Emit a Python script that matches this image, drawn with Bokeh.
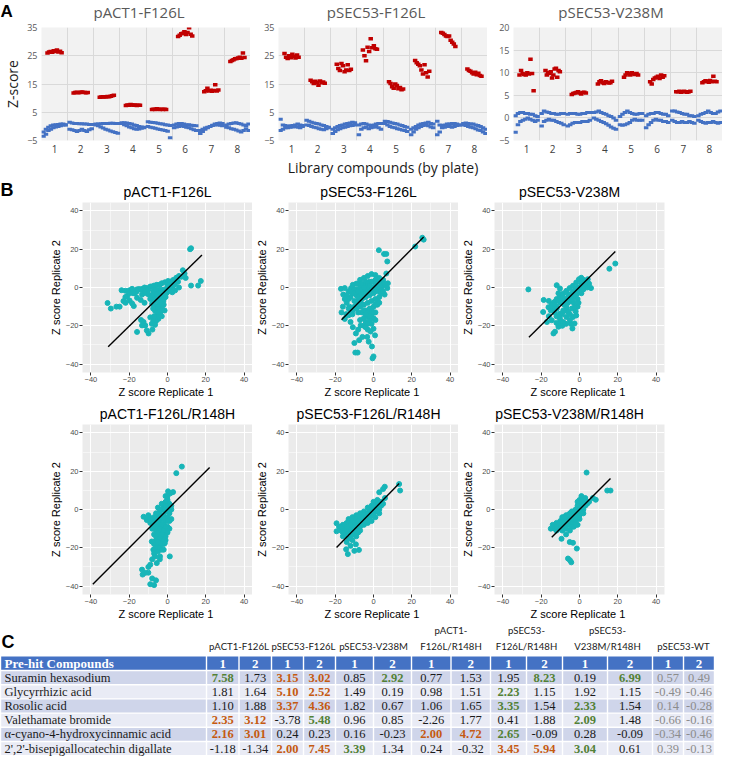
from bokeh.plotting import figure
from bokeh.layouts import column, row
from bokeh.models import FixedTicker, Range1d
from bokeh.core.properties import value
from bokeh.embed import file_html
from bokeh.resources import INLINE

# ---------------- Panel A data ----------------
plates = [1, 2, 3, 4, 5, 6, 7, 8]
a_titles = ["pACT1-F126L", "pSEC53-F126L", "pSEC53-V238M"]

act1_hits = [
    [26.0, 26.3, 26.5, 26.2, 26.8, 26.5, 27.0, 26.3, 26.6, 26.1],
    [11.8, 12.0, 12.1, 11.9, 12.0, 12.2, 12.1, 12.0, 11.9, 12.0],
    [10.3, 10.4, 10.5, 10.4, 10.5, 10.6, 10.5, 10.7, 10.8, 11.0],
    [7.4, 7.6, 7.5, 7.7, 7.6, 7.5, 7.6, 7.4, 7.5, 7.5],
    [6.0, 6.1, 6.0, 6.2, 6.1, 6.0, 6.1, 6.0, 6.1, 6.0],
    [31.8, 32.3, 32.8, 33.0, 33.5, 32.5, 33.2, 34.9, 32.6, 32.0],
    [12.3, 12.6, 13.5, 12.5, 12.8, 12.4, 12.7, 14.7, 12.5, 12.9],
    [23.0, 23.3, 23.6, 23.9, 24.0, 24.2, 24.5, 24.1, 26.0, 24.4],
]
act1_ctrl_upper = [
    [-2.0, -1.0, -0.3, 0.2, 0.5, 0.6, 0.7, 0.8, 0.8, 0.6],
    [1.5, 1.2, 1.0, 1.0, 0.9, 0.9, 0.8, 0.8, 0.7, 0.7],
    [0.8, 0.8, 0.9, 1.0, 1.0, 1.0, 1.1, 1.1, 1.0, 1.0],
    [1.3, 1.3, 1.2, 1.0, 0.8, 0.5, 0.3, 0.0, -0.2, -0.3],
    [1.6, 1.5, 1.4, 1.3, 1.1, 0.9, 0.8, 0.6, 0.5, 0.3],
    [0.5, 0.8, 1.0, 1.0, 0.8, 0.6, 0.6, 0.4, 0.3, 0.2],
    [-2.5, -1.8, -1.0, -0.5, 0.0, 0.4, 0.8, 1.0, 1.2, 1.0],
    [0.5, 0.8, 1.0, 1.2, 1.3, 1.0, 0.8, 0.5, 0.3, 0.8],
]
act1_ctrl_lower = [
    [-3.5, -2.8, -1.5, -1.0, -0.5, -0.2, 0.0, 0.2, 0.5, 0.5],
    [-1.0, -1.2, -1.5, -1.8, -1.5, -1.0, -1.5, -1.8, -1.2, -0.8],
    [0.5, 0.2, -0.2, -0.6, -1.0, -1.3, -1.6, -1.9, -2.2, -2.4],
    [1.0, 0.6, 0.2, -0.2, -0.5, -0.8, -1.0, -0.9, -0.7, -0.5],
    [0.0, -0.3, -0.5, -0.7, -0.9, -1.1, -1.3, -1.5, -1.7, -4.0],
    [-0.5, -0.2, 0.0, 0.2, 0.0, -0.3, -0.5, -0.8, -1.2, -1.5],
    [-1.5, -1.0, -0.6, -0.3, 0.0, 0.3, 0.5, 0.6, 0.4, 0.2],
    [-0.3, -0.5, -0.8, -1.0, -1.3, -1.6, -2.0, -1.5, -0.8, -1.5],
]
f126l_hits = [
    [25.8, 24.5, 24.0, 25.0, 24.3, 25.5, 24.8, 24.2, 25.3, 24.5],
    [16.3, 15.8, 15.2, 16.0, 15.5, 14.6, 16.1, 15.4, 15.7, 15.3],
    [22.0, 20.5, 19.8, 22.3, 21.5, 19.3, 20.0, 21.8, 19.8, 20.2],
    [27.0, 25.0, 23.2, 28.0, 26.5, 31.0, 27.8, 28.5, 27.5, 27.3],
    [15.8, 15.2, 14.0, 13.5, 15.0, 14.5, 13.3, 13.8, 13.0, 13.2],
    [23.3, 22.5, 22.0, 21.5, 20.0, 18.5, 21.8, 19.0, 17.5, 19.5],
    [33.2, 33.0, 32.5, 32.0, 31.8, 32.0, 30.5, 29.8, 29.2, 28.3],
    [20.3, 19.8, 19.5, 19.0, 18.5, 19.2, 18.3, 18.8, 18.0, 17.7],
]
f126l_ctrl_upper = [
    [2.5, 0.5, 0.3, 0.0, 0.2, 0.3, 0.5, 0.8, 0.5, 0.3],
    [2.2, 1.8, 1.5, 1.2, 1.0, 0.8, 0.5, 0.3, 0.0, -0.3],
    [-1.0, -0.5, 0.0, 0.3, 0.5, 0.8, 1.0, 1.2, 1.5, 1.3],
    [0.5, 0.8, 1.0, 0.8, 0.5, 0.3, 0.5, 0.8, 1.0, 1.0],
    [1.8, 1.7, 1.5, 1.2, 1.0, 0.8, 0.5, 0.3, 0.0, -0.3],
    [-1.0, -0.5, 0.0, 0.5, 0.8, 1.0, 1.2, 1.5, 1.0, 0.8],
    [1.8, 0.5, 0.3, 0.5, 0.8, 0.8, 1.0, 1.0, 0.8, 0.5],
    [1.0, 1.2, 1.0, 0.8, 0.8, 0.5, 0.3, 0.0, -0.5, -1.0],
]
f126l_ctrl_lower = [
    [-1.5, -1.0, -0.5, -0.5, -0.3, -0.2, 0.0, -0.3, -0.5, 0.0],
    [0.5, 0.3, 0.0, -0.3, -0.5, -0.8, -1.0, -1.2, -0.8, -0.5],
    [-2.5, -1.8, -1.2, -0.8, -0.5, -0.3, 0.0, 0.2, 0.3, 0.5],
    [-3.0, -1.0, -0.5, -0.3, -0.8, -0.5, -0.3, 0.0, -0.5, -1.0],
    [1.0, 0.5, 0.0, -0.3, -0.5, -0.8, -1.0, -1.3, -1.5, -1.8],
    [-3.0, -2.0, -1.0, -0.5, 0.0, 0.3, 0.5, 0.2, -0.2, -0.5],
    [-3.0, -2.0, -0.5, -0.3, 0.0, 0.0, -0.3, 0.0, 0.3, 0.5],
    [0.5, 0.3, 0.0, -0.3, -0.5, -0.8, -1.3, -1.5, -2.0, -2.5],
]
v238m_hits = [
    [9.5, 10.5, 9.8, 9.6, 9.5, 10.0, 9.7, 13.0, 9.8, 6.0],
    [10.5, 9.5, 10.0, 9.8, 10.2, 8.8, 9.5, 10.8, 11.0, 9.0, 10.5, 10.2],
    [5.2, 5.4, 5.5, 5.6, 5.8, 5.5, 5.3, 5.6, 5.7, 5.5],
    [7.5, 8.0, 8.2, 7.8, 7.6, 8.0, 7.9, 7.7, 7.8, 8.1],
    [9.0, 9.5, 10.0, 9.8, 9.5, 10.0, 9.7, 9.6, 9.8, 9.5],
    [8.0, 7.5, 8.5, 8.8, 9.0, 9.2, 8.7, 9.5, 9.0, 9.3],
    [5.8, 5.8, 5.9, 5.7, 5.8, 5.9, 5.8, 5.7, 5.8, 5.9],
    [7.8, 8.0, 8.2, 8.1, 7.9, 8.3, 8.0, 9.2, 8.1, 8.0],
]
v238m_ctrl_upper = [
    [0.5, 1.0, 1.2, 1.2, 1.0, 1.0, 0.8, 0.8, 0.5, 0.3],
    [1.0, 1.5, 1.3, 1.2, 1.0, 1.0, 0.8, 0.8, 1.0, 1.0],
    [0.8, 1.0, 1.0, 1.0, 0.8, 0.8, 1.0, 1.0, 1.2, 1.2],
    [1.2, 1.3, 1.5, 1.2, 1.0, 0.8, 0.5, 0.3, 0.0, -0.5],
    [0.3, 0.8, 1.2, 1.5, 1.2, 1.0, 0.8, 0.8, 1.0, 1.0],
    [0.5, 0.8, 1.0, 1.0, 1.2, 1.2, 1.0, 0.8, 0.8, 0.5],
    [1.5, 1.5, 1.3, 1.2, 1.0, 0.8, 0.8, 0.5, 0.5, 0.3],
    [0.5, 0.8, 1.0, 1.2, 1.5, 1.2, 1.0, 1.0, 1.3, 1.5],
]
v238m_ctrl_lower = [
    [-3.2, -1.5, -0.8, -0.5, -0.3, 0.0, -0.3, -0.5, -0.8, -0.5],
    [-1.8, -0.8, -0.5, -0.3, -0.5, -0.5, -0.8, -1.0, -1.2, -1.5],
    [-1.8, -1.5, -1.2, -1.0, -1.0, -1.0, -0.8, -0.8, -0.8, -0.5],
    [0.0, -0.3, -0.5, -0.8, -1.0, -1.3, -1.6, -2.0, -2.3, -2.5],
    [-1.5, -1.6, -1.5, -1.3, -1.0, -0.5, -0.3, -0.5, -0.5, -0.5],
    [-2.2, -1.5, -1.0, -0.5, -0.3, -0.5, -0.5, -0.8, -0.8, -1.0],
    [-0.5, -0.8, -1.0, -1.0, -0.8, -1.0, -1.0, -0.8, -1.0, -1.2],
    [-0.5, -0.8, -1.0, -1.2, -1.0, -1.0, -0.8, -1.0, -1.2, -1.0],
]
a1_yticks = [-5, 5, 15, 25, 35]
a3_yticks = [-5, 0, 5, 10, 15, 20]

# ---------------- Panel B data ----------------
b_titles = ["pACT1-F126L", "pSEC53-F126L", "pSEC53-V238M",
            "pACT1-F126L/R148H", "pSEC53-F126L/R148H", "pSEC53-V238M/R148H"]
b_ticks = [-40, -20, 0, 20, 40]
b_minor = [-30, -10, 10, 30]

b1_pts = [(11.8, 20), (12.3, 20.5), (17.4, 3.4), (16, 1), (12.3, 1), (8, 9), (6, 6), (9.5, 5),
          (-24, -1.4), (-22, -1.7), (-20, -1.5), (-18.5, -0.7), (-16, -1), (-15, -0.8), (-13.3, -0.8),
          (-12, 0), (-10.8, -0.3), (-9, 0.5), (-8.2, 0.5), (-7, 1), (-5.6, 1.4), (-4, 1.5), (-3, 2.2),
          (-1.4, 2.7), (0.3, 3.4), (1.5, 3), (2.9, 3.9), (4.6, 5.1), (7.2, 5.6), (5.5, 3), (3.5, 2), (8.9, 7.3),
          (-31.3, -8.1), (-29.6, -11), (-26.7, -10), (-25, -10), (-23, -7.1), (-21.9, -8), (-19.8, -6.8),
          (-18.5, -8.3), (-17.6, -9.7), (-15.9, -5.4), (-13.3, -3.7), (-11.6, -2.9), (-9.9, -3.7), (-7.4, -2),
          (-21, -4.5), (-17, -3), (-14, -6.5), (-12, -8),
          (-6.5, -7.1), (-5.6, -9.7), (-6.5, -12.2), (-5.6, -14.7), (-4.8, -16.4), (-3.9, -13.9), (-3, -10.5),
          (-2.2, -7.1), (-1.4, -4.6), (-0.5, -2.9), (0.3, -2), (1.2, -0.7), (2.1, 0), (2.9, 1), (3.8, 1.7),
          (-3.9, -3.7), (-3, -2), (-2.2, -1.2), (-4.8, -2), (-5.5, -5), (-4, -6), (-2.5, -4), (-1, -1), (0, 0.5),
          (1, 1.5), (-4.5, -11), (-3.5, -8), (-2, -9), (-1.5, -12), (-3, -15), (-5, -13), (-7, -15), (-6, -17.5),
          (-7.5, -11), (-8, -8.5), (-9, -6), (4, -1.5), (6, 0), (2.5, -2.5),
          (-4, -1), (-3, -5), (-2, -3), (-1, -2), (0, -1), (1, 0), (-5, -3), (-6, -4), (-4, -8), (-3, -12),
          (-5, -10), (-2, -6), (-1, -5), (-7, -6), (-8, -4), (-6, -1), (-10, -1), (-12, -2), (-14, -1),
          (-16, -2), (-18, -3), (-20, -3), (-22, -5),
          (-13.8, -17), (-12.5, -18), (-11.6, -19.8), (-13.3, -19.8), (-15.9, -23.2), (-10.8, -22.4),
          (-9.9, -24), (-7.9, -22), (-8.2, -19), (-9, -15.6), (-7.4, -17.3), (-6.5, -19.5)]
b1_fit_x = [-31, 18]
b1_fit_y = [-31, 17]

b2_pts = [(26.2, 25), (25.5, 26), (21.8, 21.4), (2.8, 19.5), (5.5, 17.5), (6.7, 17.5), (7.2, 13.6),
          (-17, -0.7), (-15, -0.3), (-15.8, -3.7), (-16.7, -13), (-15, -16.4), (-14.2, -13.9), (-11.7, -0.3),
          (-10.8, 1.4), (-13, -2), (-12, -5), (-14, -8), (-12.5, -10), (-11, -12), (-13, -14.5), (-9, -1),
          (-8, 2), (-7, 4), (-5, 5), (-3, 6), (-1, 7), (1, 6.5), (3, 5), (5, 4), (7.5, 2.2), (7.2, -0.3),
          (5.8, -3.7), (6.7, 7.3), (-9, -4), (-7, -3), (-5, -2), (-3, -1), (-1, 0), (1, 1), (3, 2), (5, 1),
          (-8, -7), (-6, -6), (-4, -5), (-2, -4), (0, -3), (2, -2), (4, -1), (-7, -10), (-5, -9), (-3, -8),
          (-1, -7), (1, -6), (3, -5), (-6, -13), (-4, -12), (-2, -11), (0, -10), (2, -9), (-5, -16), (-3, -15),
          (-1, -14), (1, -13), (-4, -18), (-2, -17), (0, -16), (-10, -7), (-9, -9), (-6, 2), (-4, 1), (-2, 3),
          (0, 3), (2, 4), (4, 3), (-11, -3), (-3, -19),
          (-14, -4), (-13, -6), (-12, -2), (-10, -1), (-10, -3), (-9, 2), (-8, -2), (-7, 0), (-6, -1), (-5, 0),
          (-4, 3), (-3, 2), (-2, 1), (-1, 3), (1, 4), (3, 3), (4, 1), (6, 2), (-8, -5), (-6, -4), (-4, -3),
          (-2, -2), (0, -1), (2, 0), (4, -3), (5, -2), (-9, -11), (-7, -8), (-5, -12), (-3, -13), (-1, -12),
          (1, -9), (2, -7), (3, -8), (0, -13), (-2, -15), (-4, -14), (-6, -9), (-8, -13), (-10, -10),
          (-11, -14), (-7, -17), (-1, -19), (1, -17), (-5, -20), (-3, -22), (-13, -11), (-15, -6), (-16, -10),
          (-12, -12),
          (-10.8, -20.7), (-9.2, -24), (-10, -29), (-9.5, -34), (-8.3, -34), (-7.5, -27.5), (-5.8, -25.8),
          (-3.3, -25.8), (-2.5, -28.3), (-0.8, -30.8), (0, -36), (-0.5, -37), (0.8, -25), (0, -21.5),
          (-6.7, -19.8), (-4.2, -20.7), (-8, -22), (-1.5, -23), (-12, -18)]
b2_fit_x = [-16.7, 26.2]
b2_fit_y = [-16.8, 26.4]

b3_pts = [(-26.7, -1), (-11.9, 1.2), (-10.2, -0.5), (-18.7, -6.5), (-19, -12.8), (15.6, 9.8), (18.7, 12.5),
          (-16.2, -10.3), (-14.5, -8.6), (-13, -7.5), (-11.9, -6), (-10.2, -4.3), (-8.5, -3.1), (-6.8, -1.7),
          (-5.1, -0.3), (-3.4, 0.9), (-1.7, 2.6), (-0.3, 4.3), (0.9, 5.1), (2.6, 3.1), (4.3, 4.3), (6, -0.3),
          (3.4, 0.9), (0.3, -1.7), (-2, -1), (-4, -3), (-6, -5), (-8, -6), (-10, -8), (-12, -10), (-1, -3),
          (-3, -5), (1, 1), (2, 2), (5, 2), (4, 0), (-7, -2.5), (-9, -5.5), (-5, -7), (-3, -8), (-1, -6),
          (1, -3), (-11, -3), (-14, -11), (-15, -12), (-13, -13),
          (-9, -8), (-7, -7), (-5, -4), (-3, -2), (-1, 0), (1, 2), (3, 3), (-11, -7), (-13, -9), (-8, -9),
          (-6, -8), (-4, -6), (-2, -4), (0, -2), (2, -1), (-7, -12), (-9, -14), (-5, -14), (-4, -11), (-1, -10),
          (-12, -15), (-10, -18), (-7, -19), (0, 0), (2, 4), (3, 2), (-16, -7),
          (-14.5, -17.1), (-12.8, -23.1), (-13.6, -24), (-11, -20.5), (-10.2, -16.3), (-8.5, -18),
          (-6.8, -15.4), (-6, -12.8), (-3.4, -15.4), (-3.7, -21.4), (-2.6, -18.8), (-1.7, -14.6),
          (-2.6, -10.3), (-6.8, -10.3), (-10.2, -13.7), (-8.5, -12), (-11.9, -11.1), (-17, -18), (-16, -15),
          (-12, -18.5), (-9, -20), (-4.5, -19), (-2, -12.5), (-0.5, -8), (-5, -17)]
b3_fit_x = [-26.4, 18.7]
b3_fit_y = [-26.0, 18.8]

b4_pts = [(7.5, 22.4), (4.6, 19), (2.9, 9.1), (0.3, 9.5), (1.5, 8.5), (-1, 7),
          (0, 5), (-1, 4), (1, 3), (-2, 2), (0, 1), (2, 0), (-3, 0), (-1, -1), (1, -2), (-4, -2), (-2, -3),
          (0, -4), (-5, -4), (-3, -5), (-1, -6), (1, -6), (-6, -6), (-4, -7), (-2, -8), (0, -9), (-7.4, -8.1),
          (-5, -9), (-3, -10), (-1, -11), (-6, -11), (-4, -12), (-2, -13), (-7, -13), (-5, -14), (-3, -15),
          (-6, -16), (-4, -17), (-2, -18), (-7, -18), (-5, -19), (-12.5, -3.8), (-10.8, -5.5), (-9, -7),
          (-8, -10), (-9.5, -4), (-3, 3), (-5, 1), (1, -10), (2, -5), (-1, -16), (-6.5, -21),
          (-1, 2), (1, 1), (-2, 0), (-4, -4), (-2, -5), (0, -6), (-5, -7), (-3, -8), (-1, -9), (-6, -9),
          (-4, -10), (-2, -11), (0, -12), (-5, -12), (-3, -13), (-1, -14), (-6, -14), (-4, -15), (-2, -16),
          (-5, -17), (-3, -18), (-6, -20), (-4, -20), (-2, -21), (-7, -23), (-5, -22), (1, -1), (2, 2), (0, 7),
          (-8, -6), (-7, -4), (-10, -3), (-6, -2), (-4, 0),
          (-8.2, -16.7), (-7.4, -21), (-6.5, -24.5), (-5.6, -28), (-9, -28.8), (-13.3, -31.4), (-11.6, -33.1),
          (-3.9, -24.5), (-3, -21), (-1.4, -17.6), (1.2, -24.5), (-13, -34), (-10, -33), (-8, -36), (-6, -37),
          (-9, -39), (-7, -39.5), (-10, -30), (-4, -26), (-8, -26)]
b4_fit_x = [-39, 22]
b4_fit_y = [-39, 22]

b5_pts = [(13.4, 13.3), (13.9, 9.9), (5.9, 11.9), (5, 10.7), (3, 9),
          (-19.3, -11.4), (-19.3, -7.2), (-18, -9), (-17, -11), (-16, -8), (-15, -10), (-14, -7), (-13, -9),
          (-12, -6), (-11, -8), (-10, -5), (-9, -7), (-8, -4), (-7, -6), (-6, -3), (-5, -5), (-4, -2), (-3, -4),
          (-2, -1), (-1, -3), (0, 0), (1, -1), (2, 1), (3, 0), (4, 2), (5, 3), (1, 3), (2, 5), (0, 4), (-1, 2),
          (-3, 1), (-5, -1), (-7, -2), (-9, -3), (-11, -4), (-13, -5), (-15, -13), (-13, -12), (-11, -11),
          (-9, -10), (-7, -9), (-5, -8), (-3, -7), (-1, -6), (1, -4), (3, -2), (4, 4), (-16, -14), (-12, -15),
          (-10, -13), (-8, -12), (-14, -17), (-11, -16), (6, 6),
          (-17, -9), (-15, -8), (-13, -7), (-11, -6), (-9, -5), (-7, -4), (-5, -3), (-3, -2), (-1, -1), (1, 0),
          (3, 1), (-16, -12), (-14, -11), (-12, -10), (-10, -9), (-8, -8), (-6, -7), (-4, -6), (-2, -5),
          (0, -3), (2, -1), (-1, 1), (1, 2), (3, 3), (0, 2), (-2, 0), (-4, -4), (-6, -5), (-8, -6), (-10, -7),
          (-12, -8), (-14, -9), (-9, -12), (-7, -11), (-11, -13), (-13, -15), (-9, -14),
          (-14.3, -20.8), (-13.4, -23.3), (-10, -21.6), (-7.6, -21.1), (-9.2, -18.2), (-12, -19)]
b5_fit_x = [-19.3, 13.4]
b5_fit_y = [-19.9, 13.6]

b6_pts = [(3.7, 19.3), (14.5, 9.9), (16.2, 9.9), (8.5, 5.1), (7, 6),
          (-15, -10), (-14, -8), (-13, -9), (-12, -7), (-11, -8), (-10, -6), (-9, -7), (-8, -5), (-7, -6),
          (-6, -4), (-5, -5), (-4, -3), (-3, -4), (-2, -2), (-1, -3), (0, -1), (1, 0), (2, 1), (3, 2), (1, 3),
          (0, 2), (-1, 1), (2, 4), (3, 6), (1, 7), (0, 5), (-1, 4), (-3, -1), (-5, -2), (-7, -3), (-9, -4),
          (-6, -8), (-4, -7), (-2, -6), (0, -5), (2, -2), (4, 3), (5, 4), (-8, -9), (-10, -10), (-12, -11),
          (-3, -9), (-1, -8), (-5, -11),
          (-13, -10), (-11, -9), (-9, -8), (-7, -7), (-5, -6), (-3, -5), (-1, -4), (1, -2), (-6, -6), (-4, -5),
          (-2, -4), (0, -3), (2, 0), (3, 4), (1, 5), (-1, 2), (-2, 0), (-4, -1), (-6, -3), (-8, -4), (-10, -7),
          (-12, -9), (-8, -7), (-4, -9), (-2, -8), (0, 0), (1, 1), (-7, -10), (-9, -11), (-3, -2),
          (-9.4, -15.3), (-5.1, -17), (-3.4, -17.4), (-1.4, -20.4), (-6, -25.6), (-4.3, -27.6), (-5, -26.5),
          (-7, -13)]
b6_fit_x = [-14.5, 16.2]
b6_fit_y = [-14.5, 16.2]

# ---------------- Panel C data ----------------
compounds = ["Suramin hexasodium", "Glycyrrhizic acid", "Rosolic acid", "Valethamate bromide",
             "\u03b1-cyano-4-hydroxycinnamic acid", "2',2'-bisepigallocatechin digallate"]
group_line1 = ["", "", "", "pACT1-", "pSEC53-", "pSEC53-", ""]
group_line2 = ["pACT1-F126L", "pSEC53-F126L", "pSEC53-V238M", "F126L/R148H", "F126L/R148H",
               "V238M/R148H", "pSEC53-WT"]
replicates = ["1", "2"]
values = [
    ["7.58", "1.73", "3.15", "3.02", "0.85", "2.92", "0.77", "1.53", "1.95", "8.23", "0.19", "6.99", "0.57", "0.49"],
    ["1.81", "1.64", "5.10", "2.52", "1.49", "0.19", "0.98", "1.51", "2.23", "1.15", "1.92", "1.15", "-0.49", "-0.46"],
    ["1.10", "1.88", "3.37", "4.36", "1.82", "0.67", "1.06", "1.65", "3.35", "1.54", "2.33", "1.54", "0.14", "-0.28"],
    ["2.35", "3.12", "-3.78", "5.48", "0.96", "0.85", "-2.26", "1.77", "0.41", "1.88", "2.09", "1.48", "-0.66", "-0.16"],
    ["2.16", "3.01", "0.24", "0.23", "0.16", "-0.23", "2.00", "4.72", "2.65", "-0.09", "0.28", "-0.09", "-0.34", "-0.46"],
    ["-1.18", "-1.34", "2.00", "7.45", "3.39", "1.34", "0.24", "-0.32", "3.45", "5.94", "3.04", "0.61", "0.39", "-0.13"],
]
# g = green (bold), o = orange (bold), n = normal, w = wild-type (grey)
marks = [
    ["g", "n", "o", "o", "n", "g", "n", "n", "n", "g", "n", "g", "w", "w"],
    ["n", "n", "o", "o", "n", "n", "n", "n", "g", "n", "n", "n", "w", "w"],
    ["n", "n", "o", "o", "n", "n", "n", "n", "g", "n", "g", "n", "w", "w"],
    ["o", "o", "n", "g", "n", "n", "n", "n", "n", "n", "g", "n", "w", "w"],
    ["o", "o", "n", "n", "n", "n", "o", "o", "g", "n", "n", "n", "w", "w"],
    ["n", "n", "o", "o", "g", "n", "n", "n", "o", "o", "g", "n", "w", "w"],
]

# ---------------- styles / layout constants ----------------
RED = "#c00000"
BLUE = "#4472c4"
TEAL = "#17b5b8"
SANS = "Liberation Sans"
XL = "Open Sans"
SERIF = "Liberation Serif"
TOTAL_W = 715

A_FW, A_FH = 209, 113
A_LEFT = [34, 28, 26]
A_TOP, A_BOT = 6, 36
B_FW, B_FH = 170, 170
B_LEFT = [82, 31, 31]
B_RIGHT = [0, 0, 61]
B_TOP, B_BOT = 0, 27


def spread(plate, n, half):
    return [plate - half + 2 * half * (i + 0.5) / n for i in range(n)]


def strip(height):
    s = figure(width=TOTAL_W, height=height, x_range=Range1d(0, TOTAL_W), y_range=Range1d(height, 0),
               output_backend="svg", toolbar_location=None, x_axis_type=None, y_axis_type=None,
               min_border=0)
    s.grid.visible = False
    s.outline_line_color = None
    return s


def panel_a(hits, upper, lower, yr, yticks, left, ylabel="", xlabel=""):
    p = figure(frame_width=A_FW, frame_height=A_FH, x_range=Range1d(0.5, 8.5), y_range=Range1d(*yr),
               output_backend="svg", toolbar_location=None,
               min_border_left=left, min_border_right=0, min_border_top=A_TOP, min_border_bottom=A_BOT)
    p.background_fill_color = "#f2f2f2"
    p.border_fill_color = "white"
    p.outline_line_color = None
    p.xaxis.ticker = FixedTicker(ticks=plates)
    p.yaxis.ticker = FixedTicker(ticks=yticks)
    p.xgrid.ticker = FixedTicker(ticks=[k + 0.5 for k in range(9)])
    p.xgrid.grid_line_color = "#d9d9d9"
    p.ygrid.grid_line_color = "#d9d9d9"
    for ax in (p.xaxis, p.yaxis):
        ax.axis_line_color = None
        ax.major_tick_line_color = None
        ax.minor_tick_line_color = None
        ax.major_tick_out = 0
        ax.major_tick_in = 0
        ax.minor_tick_out = 0
        ax.minor_tick_in = 0
        ax.major_label_text_font = XL
        ax.axis_label_text_font = XL
        ax.axis_label_text_font_style = "normal"
        ax.axis_label_text_font_size = "14px"
        ax.axis_label_text_color = "#1a1a1a"
        ax.axis_label_standoff = 2
    p.xaxis.major_label_text_font_size = "10px"
    p.xaxis.major_label_text_color = "#404040"
    p.xaxis.major_label_standoff = 4
    p.yaxis.major_label_text_font_size = "9px"
    p.yaxis.major_label_text_color = "#595959"
    p.yaxis.major_label_standoff = 4
    if ylabel:
        p.yaxis.axis_label = ylabel
    if xlabel:
        p.xaxis.axis_label = xlabel
    cx, cy, hx, hy = [], [], [], []
    for plate, up, lo in zip(plates, upper, lower):
        cx += spread(plate, len(up), 0.47) + spread(plate, len(lo), 0.47)
        cy += up + lo
    for plate, vals in zip(plates, hits):
        hx += spread(plate, len(vals), 0.3)
        hy += vals
    p.rect(cx, cy, width=4.5, height=3, width_units="screen", height_units="screen",
           fill_color=BLUE, line_color=None)
    p.rect(hx, hy, width=4.5, height=3.5, width_units="screen", height_units="screen",
           fill_color=RED, line_color=None)
    return p


def panel_b(pts, fx, fy, ci):
    p = figure(frame_width=B_FW, frame_height=B_FH, x_range=Range1d(-44.4, 44.4), y_range=Range1d(-44.4, 44.4),
               output_backend="svg", toolbar_location=None,
               min_border_left=B_LEFT[ci], min_border_right=B_RIGHT[ci],
               min_border_top=B_TOP, min_border_bottom=B_BOT)
    p.background_fill_color = "#ebebeb"
    p.border_fill_color = "white"
    p.outline_line_color = None
    for ax in (p.xaxis, p.yaxis):
        ax.ticker = FixedTicker(ticks=b_ticks, minor_ticks=b_minor)
        ax.axis_line_color = None
        ax.major_tick_line_color = "#333333"
        ax.major_tick_out = 3
        ax.major_tick_in = 0
        ax.minor_tick_line_color = None
        ax.minor_tick_out = 0
        ax.minor_tick_in = 0
        ax.major_label_text_font = SANS
        ax.major_label_text_font_size = "7.5px"
        ax.major_label_text_color = "#4d4d4d"
        ax.major_label_standoff = 1
        ax.axis_label_text_font = SANS
        ax.axis_label_text_font_size = "11px"
        ax.axis_label_text_font_style = "normal"
        ax.axis_label_text_color = "black"
        ax.axis_label_standoff = 1
    p.xaxis.axis_label = "Z score  Replicate 1"
    p.yaxis.axis_label = "Z score Replicate 2"
    for g in (p.xgrid, p.ygrid):
        g.grid_line_color = "white"
        g.grid_line_width = 1.1
        g.minor_grid_line_color = "white"
        g.minor_grid_line_width = 0.5
    xs = [a for a, b in pts]
    ys = [b for a, b in pts]
    p.scatter(xs, ys, size=5, fill_color=TEAL, line_color=TEAL)
    p.line(fx, fy, line_color="black", line_width=1.4)
    return p


# ---------------- Panel A ----------------
stripA = strip(21)
a_centers, xpos = [], 0
for L in A_LEFT:
    a_centers.append(xpos + L + A_FW / 2)
    xpos += L + A_FW
stripA.text(x=a_centers, y=[11] * 3, text=a_titles, text_align="center", text_baseline="middle",
            text_font=value(XL), text_font_size="15px", text_color="#595959")
stripA.text(x=[0], y=[1], text=["A"], text_align="left", text_baseline="top", text_font=value(SANS),
            text_font_size="17px", text_font_style="bold", text_color="black")

a1 = panel_a(act1_hits, act1_ctrl_upper, act1_ctrl_lower, (-5, 35), a1_yticks, A_LEFT[0], ylabel="Z-score")
a2 = panel_a(f126l_hits, f126l_ctrl_upper, f126l_ctrl_lower, (-5, 35), a1_yticks, A_LEFT[1],
             xlabel="Library compounds (by plate)")
a3 = panel_a(v238m_hits, v238m_ctrl_upper, v238m_ctrl_lower, (-5, 20), a3_yticks, A_LEFT[2])

# ---------------- Panel B ----------------
b_centers, xpos = [], 0
for L, R in zip(B_LEFT, B_RIGHT):
    b_centers.append(xpos + L + B_FW / 2)
    xpos += L + B_FW + R

stripB1 = strip(23)
stripB1.text(x=b_centers, y=[12] * 3, text=b_titles[:3], text_align="center", text_baseline="middle",
             text_font=value(SANS), text_font_size="14px", text_color="black")
stripB1.text(x=[0], y=[0], text=["B"], text_align="left", text_baseline="top", text_font=value(SANS),
             text_font_size="18px", text_font_style="bold", text_color="black")
stripB2 = strip(24)
stripB2.text(x=b_centers, y=[13] * 3, text=b_titles[3:], text_align="center", text_baseline="middle",
             text_font=value(SANS), text_font_size="14px", text_color="black")

b1 = panel_b(b1_pts, b1_fit_x, b1_fit_y, 0)
b2 = panel_b(b2_pts, b2_fit_x, b2_fit_y, 1)
b3 = panel_b(b3_pts, b3_fit_x, b3_fit_y, 2)
b4 = panel_b(b4_pts, b4_fit_x, b4_fit_y, 0)
b5 = panel_b(b5_pts, b5_fit_x, b5_fit_y, 1)
b6 = panel_b(b6_pts, b6_fit_x, b6_fit_y, 2)

# ---------------- Panel C (table) ----------------
TH = 137
tbl = strip(TH)
tbl.background_fill_color = "white"

col_edges = [206, 271, 335, 411, 490, 562, 652, 714]
head_top, head_bot = 34, 48
row_h = 14.2
sub_left, sub_right, sub_mid = [], [], []
for gi in range(len(group_line2)):
    l, r = col_edges[gi], col_edges[gi + 1]
    m = (l + r) / 2
    sub_left += [l, m]
    sub_right += [m, r]
    sub_mid += [(l + m) / 2, (m + r) / 2]

gap = 0.7
cell_left = [gap] + [v + gap for v in sub_left]
cell_right = [col_edges[0] - gap] + [v - gap for v in sub_right]
tbl.quad(left=cell_left, right=cell_right, top=[head_top] * 15, bottom=[head_bot - gap] * 15,
         fill_color=BLUE, line_color=None)
for ri in range(len(compounds)):
    top = head_bot + ri * row_h
    fill = "#cfd5ea" if ri % 2 == 0 else "#e9ebf5"
    tbl.quad(left=cell_left, right=cell_right, top=[top + gap] * 15, bottom=[top + row_h - gap] * 15,
             fill_color=fill, line_color=None)

gmid = [(col_edges[i] + col_edges[i + 1]) / 2 for i in range(len(group_line2))]
tbl.text(x=gmid, y=[8] * len(gmid), text=group_line1, text_align="center", text_baseline="middle",
         text_font=value("Lato"), text_font_size="9.6px", text_color="#1a1a1a")
tbl.text(x=gmid, y=[24] * len(gmid), text=group_line2, text_align="center", text_baseline="middle",
         text_font=value("Lato"), text_font_size="9.6px", text_color="#1a1a1a")
tbl.text(x=[4], y=[(head_top + head_bot) / 2], text=["Pre-hit Compounds"], text_align="left",
         text_baseline="middle", text_font=value(SERIF), text_font_size="13px", text_font_style="bold",
         text_color="white")
tbl.text(x=sub_mid, y=[(head_top + head_bot) / 2] * len(sub_mid), text=replicates * len(group_line2),
         text_align="center", text_baseline="middle", text_font=value(SERIF), text_font_size="13px",
         text_font_style="bold", text_color="white")
tbl.text(x=[4] * len(compounds), y=[head_bot + (i + 0.5) * row_h for i in range(len(compounds))],
         text=compounds, text_align="left", text_baseline="middle", text_font=value(SERIF),
         text_font_size="12.5px", text_color="#1a1a1a")
mark_color = {"g": "#538135", "o": "#c55a11", "n": "#1a1a1a", "w": "#8c8c8c"}
bx, by, bt, bc, nx, ny, nt, nc = [], [], [], [], [], [], [], []
for ri, (vals, mk) in enumerate(zip(values, marks)):
    yc = head_bot + (ri + 0.5) * row_h
    for ci, (v, m) in enumerate(zip(vals, mk)):
        if m in ("g", "o"):
            bx.append(sub_mid[ci]); by.append(yc); bt.append(v); bc.append(mark_color[m])
        else:
            nx.append(sub_mid[ci]); ny.append(yc); nt.append(v); nc.append(mark_color[m])
tbl.text(x=nx, y=ny, text=nt, text_color=nc, text_align="center", text_baseline="middle",
         text_font=value(SERIF), text_font_size="12.5px")
tbl.text(x=bx, y=by, text=bt, text_color=bc, text_align="center", text_baseline="middle",
         text_font=value(SERIF), text_font_size="12.5px", text_font_style="bold")
tbl.text(x=[1], y=[9], text=["C"], text_align="left", text_baseline="top", text_font=value(SANS),
         text_font_size="18px", text_font_style="bold", text_color="black")

layout = column(stripA, row(a1, a2, a3), stripB1, row(b1, b2, b3), stripB2, row(b4, b5, b6), tbl)

with open("out.html", "w") as f:
    f.write(file_html(layout, INLINE))
